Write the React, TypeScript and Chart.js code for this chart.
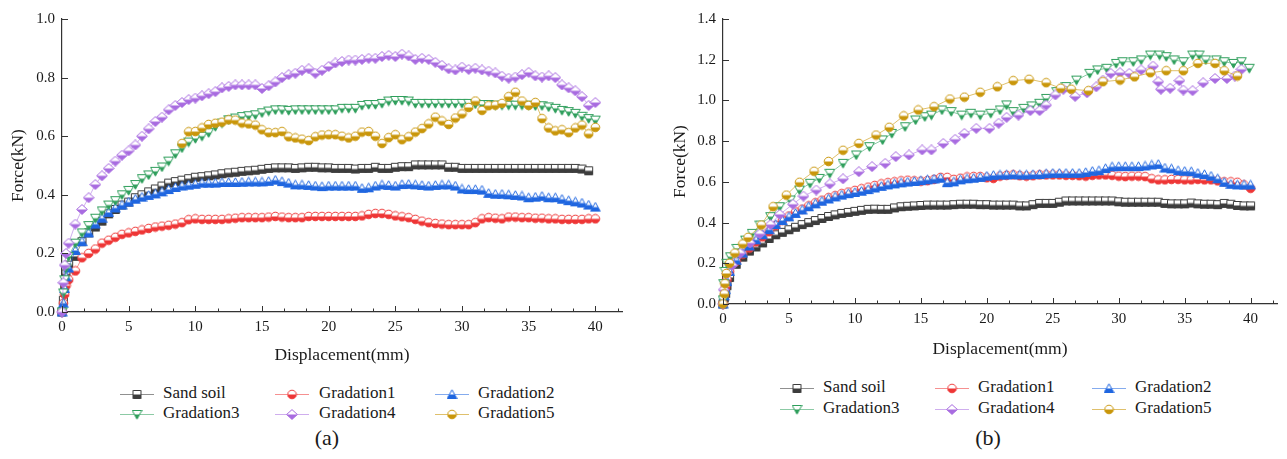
import React, { useEffect, useRef } from 'react';
import { Chart, registerables } from 'chart.js';

Chart.register(...registerables);

const FONT = '"Liberation Serif", "Times New Roman", serif';
const TEXT_COLOR = '#1a1a1a';
const AXIS_COLOR = '#333333';

const SERIES_NAMES = ['Sand soil', 'Gradation1', 'Gradation2', 'Gradation3', 'Gradation4', 'Gradation5'];
const MARKER_COLORS = ['#3c3c3c', '#ee3535', '#1f66e0', '#2e9e5b', '#a86be0', '#c9960a'];
const LINE_COLORS = ['rgba(70,70,70,0.6)', 'rgba(238,53,53,0.55)', 'rgba(31,102,224,0.55)', 'rgba(46,158,91,0.55)', 'rgba(168,107,224,0.55)', 'rgba(201,150,10,0.6)'];
const MARKER_SHAPES = ['square', 'circle', 'triangle', 'triangleDown', 'diamond', 'circle'];

const X_TICK_STEP = 5;
const X_MAX = 42;
const Y_TICK_STEP = 0.2;
const Y_MAX_A = 1.0;
const Y_MAX_B = 1.4;
const X_TITLE = 'Displacement(mm)';
const Y_TITLE = 'Force(kN)';
const CAPTIONS = ['(a)', '(b)'];

// Shared fine displacement grid (mm)
const X_FINE = [
  0, 0.1, 0.2, 0.3, 0.5, 1, 1.5, 2, 2.5, 3,
  3.5, 4, 4.5, 5, 5.5, 6, 6.5, 7, 7.5, 8,
  8.5, 9, 9.5, 10, 10.5, 11, 11.5, 12, 12.5, 13,
  13.5, 14, 14.5, 15, 15.5, 16, 16.5, 17, 17.5, 18,
  18.5, 19, 19.5, 20, 20.5, 21, 21.5, 22, 22.5, 23,
  23.5, 24, 24.5, 25, 25.5, 26, 26.5, 27, 27.5, 28,
  28.5, 29, 29.5, 30, 30.5, 31, 31.5, 32, 32.5, 33,
  33.5, 34, 34.5, 35, 35.5, 36, 36.5, 37, 37.5, 38,
  38.5, 39, 39.5, 40,
];

// ---------- Panel (a) ----------
const A_SAND = [
  0, 0.04, 0.09, 0.13, 0.16, 0.19, 0.24, 0.27, 0.29, 0.31,
  0.335, 0.35, 0.365, 0.375, 0.39, 0.4, 0.41, 0.42, 0.43, 0.44,
  0.445, 0.45, 0.455, 0.46, 0.462, 0.465, 0.468, 0.472, 0.475, 0.477,
  0.48, 0.482, 0.484, 0.487, 0.49, 0.492, 0.492, 0.492, 0.49, 0.492,
  0.494, 0.494, 0.492, 0.492, 0.49, 0.49, 0.49, 0.488, 0.49, 0.49,
  0.494, 0.49, 0.49, 0.494, 0.496, 0.496, 0.502, 0.502, 0.502, 0.502,
  0.502, 0.494, 0.494, 0.49, 0.49, 0.49, 0.49, 0.49, 0.49, 0.49,
  0.49, 0.49, 0.49, 0.49, 0.49, 0.49, 0.49, 0.49, 0.49, 0.49,
  0.49, 0.488, 0.482, null,
];
const A_G1 = [
  0, 0.03, 0.06, 0.09, 0.11, 0.14, 0.185, 0.2, 0.215, 0.235,
  0.245, 0.255, 0.265, 0.27, 0.275, 0.28, 0.285, 0.29, 0.293, 0.296,
  0.3, 0.305, 0.315, 0.318, 0.316, 0.316, 0.316, 0.316, 0.318, 0.32,
  0.322, 0.322, 0.322, 0.322, 0.324, 0.326, 0.324, 0.322, 0.322, 0.322,
  0.326, 0.326, 0.326, 0.326, 0.326, 0.326, 0.326, 0.326, 0.328, 0.333,
  0.336, 0.336, 0.333, 0.328, 0.325, 0.322, 0.316, 0.31, 0.305, 0.302,
  0.3, 0.298, 0.298, 0.298, 0.298, 0.305, 0.318, 0.322, 0.32, 0.318,
  0.324, 0.324, 0.322, 0.322, 0.32, 0.32, 0.318, 0.318, 0.316, 0.316,
  0.316, 0.316, 0.318, 0.318,
];
const A_G2 = [
  0, 0.03, 0.08, 0.12, 0.15, 0.21, 0.24, 0.27, 0.3, 0.32,
  0.34, 0.355, 0.365, 0.375, 0.385, 0.392, 0.398, 0.403, 0.41, 0.418,
  0.425, 0.43, 0.433, 0.436, 0.44, 0.44, 0.44, 0.442, 0.442, 0.442,
  0.443, 0.444, 0.444, 0.444, 0.446, 0.45, 0.445, 0.44, 0.434, 0.434,
  0.432, 0.43, 0.428, 0.43, 0.43, 0.43, 0.43, 0.43, 0.422, 0.424,
  0.43, 0.434, 0.432, 0.43, 0.435, 0.436, 0.434, 0.432, 0.43, 0.432,
  0.434, 0.434, 0.43, 0.42, 0.418, 0.418, 0.416, 0.405, 0.402, 0.402,
  0.4, 0.398, 0.396, 0.39, 0.392, 0.395, 0.39, 0.39, 0.385, 0.38,
  0.376, 0.372, 0.365, 0.358,
];
const A_G3 = [
  0, 0.065, 0.11, 0.15, 0.19, 0.235, 0.27, 0.295, 0.32, 0.345,
  0.365, 0.38, 0.4, 0.415, 0.435, 0.455, 0.468, 0.48, 0.495, 0.515,
  0.54, 0.56, 0.58, 0.592, 0.6, 0.612, 0.633, 0.645, 0.656, 0.662,
  0.667, 0.67, 0.673, 0.68, 0.686, 0.69, 0.69, 0.688, 0.69, 0.69,
  0.69, 0.69, 0.69, 0.69, 0.69, 0.695, 0.695, 0.695, 0.705, 0.708,
  0.708, 0.712, 0.72, 0.722, 0.722, 0.72, 0.712, 0.712, 0.712, 0.712,
  0.712, 0.712, 0.712, 0.712, 0.712, 0.71, 0.708, 0.708, 0.706, 0.706,
  0.706, 0.706, 0.706, 0.706, 0.704, 0.704, 0.7, 0.695, 0.688, 0.684,
  0.678, 0.668, 0.66, 0.655,
];
const A_G4 = [
  0, 0.1, 0.16, 0.2, 0.235, 0.3, 0.35, 0.39, 0.435, 0.465,
  0.49, 0.515, 0.535, 0.55, 0.57, 0.6, 0.625, 0.65, 0.665, 0.69,
  0.705, 0.715, 0.725, 0.73, 0.738, 0.745, 0.752, 0.765, 0.77, 0.775,
  0.775, 0.775, 0.775, 0.763, 0.772, 0.785, 0.8, 0.81, 0.815, 0.825,
  0.83, 0.815, 0.825, 0.838, 0.85, 0.855, 0.86, 0.86, 0.862, 0.866,
  0.866, 0.872, 0.876, 0.872, 0.88, 0.874, 0.862, 0.866, 0.862, 0.852,
  0.842, 0.83, 0.826, 0.836, 0.828, 0.832, 0.826, 0.822, 0.816, 0.805,
  0.798, 0.802, 0.81, 0.818, 0.806, 0.802, 0.806, 0.8, 0.775, 0.765,
  0.755, 0.735, 0.705, 0.715,
];
const A_G5 = [
  null, null, null, null, null, null, null, null, null, null,
  null, null, null, null, null, null, null, null, null, null,
  null, 0.575, 0.615, 0.616, 0.628, 0.64, 0.644, 0.648, 0.656, 0.655,
  0.645, 0.642, 0.638, 0.622, 0.612, 0.612, 0.616, 0.598, 0.594, 0.59,
  0.585, 0.598, 0.604, 0.605, 0.605, 0.6, 0.594, 0.6, 0.614, 0.616,
  0.6, 0.575, 0.595, 0.605, 0.588, 0.598, 0.614, 0.626, 0.642, 0.665,
  0.652, 0.64, 0.662, 0.676, 0.698, 0.72, 0.688, 0.704, 0.706, 0.712,
  0.735, 0.75, 0.72, 0.705, 0.715, 0.66, 0.628, 0.618, 0.622, 0.612,
  0.628, 0.638, 0.608, 0.63,
];

// ---------- Panel (b) ----------
const B_SAND = [
  0, 0.03, 0.052, 0.09, 0.13, 0.195, 0.23, 0.26, 0.28, 0.3,
  0.322, 0.34, 0.352, 0.365, 0.377, 0.39, 0.4, 0.41, 0.42, 0.43,
  0.438, 0.445, 0.45, 0.455, 0.46, 0.465, 0.466, 0.465, 0.465, 0.472,
  0.478, 0.48, 0.482, 0.484, 0.486, 0.486, 0.486, 0.486, 0.488, 0.49,
  0.49, 0.49, 0.488, 0.488, 0.486, 0.486, 0.486, 0.486, 0.482, 0.482,
  0.488, 0.494, 0.494, 0.494, 0.5, 0.506, 0.506, 0.506, 0.506, 0.506,
  0.506, 0.506, 0.506, 0.502, 0.5, 0.5, 0.5, 0.5, 0.5, 0.5,
  0.494, 0.492, 0.492, 0.492, 0.496, 0.492, 0.49, 0.49, 0.488, 0.494,
  0.49, 0.484, 0.482, 0.482,
];
const B_G1 = [
  0, 0.04, 0.085, 0.12, 0.16, 0.21, 0.245, 0.275, 0.305, 0.33,
  0.355, 0.385, 0.41, 0.432, 0.452, 0.466, 0.482, 0.497, 0.51, 0.522,
  0.532, 0.542, 0.55, 0.558, 0.566, 0.574, 0.582, 0.59, 0.596, 0.6,
  0.605, 0.608, 0.605, 0.603, 0.606, 0.612, 0.622, 0.622, 0.612, 0.618,
  0.624, 0.626, 0.626, 0.62, 0.617, 0.628, 0.632, 0.634, 0.63, 0.628,
  0.63, 0.634, 0.634, 0.634, 0.634, 0.632, 0.632, 0.63, 0.628, 0.632,
  0.634, 0.634, 0.632, 0.628, 0.626, 0.628, 0.628, 0.626, 0.615, 0.61,
  0.61, 0.612, 0.612, 0.61, 0.61, 0.612, 0.61, 0.61, 0.605, 0.6,
  0.6, 0.598, 0.585, 0.568,
];
const B_G2 = [
  0, 0.04, 0.07, 0.11, 0.16, 0.215, 0.25, 0.285, 0.315, 0.34,
  0.365, 0.39, 0.41, 0.428, 0.445, 0.462, 0.478, 0.492, 0.505, 0.516,
  0.526, 0.535, 0.542, 0.548, 0.554, 0.562, 0.57, 0.578, 0.585, 0.59,
  0.595, 0.599, 0.602, 0.606, 0.61, 0.614, 0.618, 0.596, 0.6, 0.61,
  0.615, 0.618, 0.622, 0.628, 0.632, 0.634, 0.634, 0.636, 0.634, 0.634,
  0.636, 0.636, 0.64, 0.642, 0.642, 0.642, 0.642, 0.642, 0.646, 0.652,
  0.655, 0.665, 0.674, 0.675, 0.675, 0.675, 0.675, 0.678, 0.683, 0.686,
  0.668, 0.664, 0.655, 0.652, 0.65, 0.642, 0.636, 0.628, 0.615, 0.598,
  0.588, 0.585, 0.585, 0.585,
];
const B_G3_X = [
  0, 0.05, 0.15, 0.3, 0.55, 1.05, 1.7, 2.2, 2.8, 3.6,
  4.3, 5.1, 5.8, 6.6, 7.3, 8.1, 9.1, 10.1, 11.1, 12.1,
  12.8, 13.8, 14.6, 15.3, 15.8, 16.6, 17.3, 18.1, 18.8, 19.5,
  20.3, 21, 21.5, 22, 22.8, 23.4, 24, 24.5, 25.3, 26,
  26.8, 27.8, 28.4, 29.1, 29.8, 30.3, 31.1, 31.7, 32.4, 33.1,
  33.6, 34.2, 34.9, 35.6, 36.1, 36.6, 37.4, 38, 38.7, 39.3,
  39.9,
];
const B_G3 = [
  0.02, 0.1, 0.16, 0.2, 0.232, 0.273, 0.314, 0.347, 0.388, 0.429,
  0.478, 0.511, 0.56, 0.593, 0.617, 0.642, 0.691, 0.732, 0.773, 0.806,
  0.838, 0.871, 0.904, 0.92, 0.928, 0.953, 0.945, 0.928, 0.937, 0.928,
  0.937, 0.953, 0.978, 0.945, 0.961, 0.973, 0.986, 1.01, 1.043, 1.068,
  1.1, 1.133, 1.15, 1.158, 1.182, 1.19, 1.19, 1.199, 1.223, 1.223,
  1.215, 1.199, 1.19, 1.223, 1.223, 1.199, 1.199, 1.19, 1.182, 1.19,
  1.158,
];
const B_G4_X = [
  0, 0.05, 0.3, 0.7, 1.3, 2.05, 2.8, 3.6, 4.3, 5.3,
  6.1, 7.07, 8.1, 9.1, 10.3, 11.3, 12.3, 13.1, 14.1, 15.1,
  15.8, 16.7, 17.6, 18.3, 19.2, 20.2, 20.9, 21.5, 22.4, 23.3,
  24, 24.5, 25.2, 25.8, 26.7, 27.6, 28.3, 28.8, 29.4, 30.1,
  30.8, 31.7, 32.6, 33, 33.2, 33.9, 34.6, 34.9, 35.6, 36.4,
  37.3, 38.2, 38.8, 39.3,
];
const B_G4 = [
  0, 0.07, 0.15, 0.19, 0.25, 0.3, 0.345, 0.39, 0.44, 0.49,
  0.53, 0.56, 0.59, 0.615, 0.65, 0.675, 0.691, 0.724, 0.732, 0.757,
  0.757, 0.789, 0.809, 0.838, 0.863, 0.863, 0.888, 0.917, 0.928, 0.95,
  0.95, 0.977, 1.027, 1.055, 1.02, 1.038, 1.067, 1.1, 1.133, 1.136,
  1.133, 1.15, 1.169, 1.092, 1.055, 1.06, 1.097, 1.051, 1.048, 1.087,
  1.108, 1.108, 1.12, 1.153,
];
const B_G5_X = [
  0, 0.1, 0.15, 0.25, 0.5, 0.9, 1.5, 1.9, 2.9, 3.8,
  4.8, 5.8, 6.9, 8, 9.1, 10.3, 11.6, 12.6, 13.7, 14.8,
  16, 17.2, 18.3, 19.5, 20.8, 22, 23.2, 24.5, 25.6, 26.4,
  27.7, 28.8, 30.1, 31.2, 32.4, 33.6, 34.9, 36, 37.3, 38,
  39,
];
const B_G5 = [
  0, 0.05, 0.1, 0.15, 0.2, 0.25, 0.295, 0.327, 0.388, 0.478,
  0.535, 0.598, 0.652, 0.7, 0.755, 0.789, 0.83, 0.868, 0.924, 0.953,
  0.969, 1.007, 1.016, 1.04, 1.067, 1.097, 1.104, 1.087, 1.06, 1.055,
  1.048, 1.092, 1.1, 1.116, 1.136, 1.146, 1.146, 1.182, 1.182, 1.146,
  1.12,
];

type Series = { x: number[]; y: (number | null)[] };

const PANEL_A_SERIES: Series[] = [
  { x: X_FINE, y: A_SAND },
  { x: X_FINE, y: A_G1 },
  { x: X_FINE, y: A_G2 },
  { x: X_FINE, y: A_G3 },
  { x: X_FINE, y: A_G4 },
  { x: X_FINE, y: A_G5 },
];
const PANEL_B_SERIES: Series[] = [
  { x: X_FINE, y: B_SAND },
  { x: X_FINE, y: B_G1 },
  { x: X_FINE, y: B_G2 },
  { x: B_G3_X, y: B_G3 },
  { x: B_G4_X, y: B_G4 },
  { x: B_G5_X, y: B_G5 },
];

function makeMarker(shape: string, color: string): HTMLCanvasElement {
  const w = shape === 'diamond' ? 12 : 11;
  const h = 11;
  const c = document.createElement('canvas');
  c.width = w;
  c.height = h;
  const ctx = c.getContext('2d') as CanvasRenderingContext2D;
  const p = new Path2D();
  const mx = w / 2;
  const my = h / 2;
  if (shape === 'square') {
    p.rect(1.5, 1.5, w - 3, h - 3);
  } else if (shape === 'circle') {
    p.arc(mx, my, 4.3, 0, Math.PI * 2);
  } else if (shape === 'triangle') {
    p.moveTo(mx, 0.8);
    p.lineTo(w - 0.7, h - 1.5);
    p.lineTo(0.7, h - 1.5);
    p.closePath();
  } else if (shape === 'triangleDown') {
    p.moveTo(0.7, 1.5);
    p.lineTo(w - 0.7, 1.5);
    p.lineTo(mx, h - 0.8);
    p.closePath();
  } else {
    p.moveTo(mx, 0.6);
    p.lineTo(w - 0.6, my);
    p.lineTo(mx, h - 0.6);
    p.lineTo(0.6, my);
    p.closePath();
  }
  ctx.fillStyle = '#ffffff';
  ctx.fill(p);
  ctx.save();
  ctx.beginPath();
  ctx.rect(0, my, w, h);
  ctx.clip();
  ctx.fillStyle = color;
  ctx.fill(p);
  ctx.restore();
  ctx.lineWidth = 1;
  ctx.strokeStyle = color;
  ctx.stroke(p);
  return c;
}

const axisTicksPlugin = {
  id: 'axisTicks',
  afterDraw(chart: any) {
    const { ctx, chartArea, scales } = chart;
    const xs = scales.x;
    const ys = scales.y;
    const minor = X_TICK_STEP / 3;
    ctx.save();
    ctx.strokeStyle = AXIS_COLOR;
    ctx.lineWidth = 1;
    ctx.beginPath();
    for (let i = 0; i * minor <= X_MAX + 1e-6; i++) {
      const px = Math.round(xs.getPixelForValue(i * minor)) + 0.5;
      const len = i % 3 === 0 ? 6 : 3.5;
      ctx.moveTo(px, chartArea.bottom);
      ctx.lineTo(px, chartArea.bottom - len);
    }
    ys.ticks.forEach((t: any) => {
      const py = Math.round(ys.getPixelForValue(t.value)) + 0.5;
      ctx.moveTo(chartArea.left, py);
      ctx.lineTo(chartArea.left + 6, py);
    });
    ctx.stroke();
    ctx.restore();
  },
};

type PanelCfg = {
  series: Series[];
  yMax: number;
  yWidth: number;
  xHeight: number;
  padRight: number;
  yTitlePad: number;
  xTitlePad: number;
};

function buildConfig(cfg: PanelCfg): any {
  const datasets = cfg.series.map((s, i) => ({
    label: SERIES_NAMES[i],
    data: s.x.map((x, j) => ({ x, y: s.y[j] })),
    borderColor: LINE_COLORS[i],
    backgroundColor: MARKER_COLORS[i],
    borderWidth: 1,
    pointStyle: makeMarker(MARKER_SHAPES[i], MARKER_COLORS[i]),
    pointRadius: 5,
    tension: 0,
    clip: false,
    order: 5 - i,
    spanGaps: false,
  }));
  const tickFont = { family: FONT, size: 15 };
  const titleFont = { family: FONT, size: 17.5 };
  return {
    type: 'line',
    data: { datasets },
    plugins: [axisTicksPlugin],
    options: {
      animation: false,
      responsive: false,
      devicePixelRatio: 1,
      events: [],
      layout: { padding: { left: 0, top: 19, right: cfg.padRight, bottom: 0 } },
      plugins: { legend: { display: false }, tooltip: { enabled: false } },
      scales: {
        x: {
          type: 'linear',
          min: 0,
          max: X_MAX,
          ticks: {
            stepSize: X_TICK_STEP,
            includeBounds: false,
            font: tickFont,
            color: TEXT_COLOR,
            padding: 6,
            maxRotation: 0,
            autoSkip: false,
          },
          grid: { display: false, drawTicks: false },
          border: { display: true, color: AXIS_COLOR, width: 1.2 },
          title: {
            display: true,
            text: X_TITLE,
            font: titleFont,
            color: TEXT_COLOR,
            padding: { top: 0, bottom: cfg.xTitlePad },
          },
          afterFit: (s: any) => {
            s.height = cfg.xHeight;
          },
        },
        y: {
          type: 'linear',
          min: 0,
          max: cfg.yMax,
          ticks: {
            stepSize: Y_TICK_STEP,
            font: tickFont,
            color: TEXT_COLOR,
            padding: 7,
            callback: (v: any) => Number(v).toFixed(1),
          },
          grid: { display: false, drawTicks: false },
          border: { display: true, color: AXIS_COLOR, width: 1.2 },
          title: {
            display: true,
            text: Y_TITLE,
            font: titleFont,
            color: TEXT_COLOR,
            padding: { top: cfg.yTitlePad, bottom: 0 },
          },
          afterFit: (s: any) => {
            s.width = cfg.yWidth;
          },
        },
      },
    },
  };
}

function Panel({ cfg, left, width }: { cfg: PanelCfg; left: number; width: number }) {
  const ref = useRef<HTMLCanvasElement>(null);
  useEffect(() => {
    const chart = new Chart(ref.current as HTMLCanvasElement, buildConfig(cfg));
    return () => chart.destroy();
  }, []);
  return (
    <canvas
      ref={ref}
      width={width}
      height={370}
      style={{ position: 'absolute', left, top: 0, width, height: 370 }}
    />
  );
}

function LegendSample({ index, left, top }: { index: number; left: number; top: number }) {
  const ref = useRef<HTMLCanvasElement>(null);
  useEffect(() => {
    const c = ref.current as HTMLCanvasElement;
    const ctx = c.getContext('2d') as CanvasRenderingContext2D;
    ctx.clearRect(0, 0, c.width, c.height);
    ctx.strokeStyle = LINE_COLORS[index];
    ctx.lineWidth = 1;
    ctx.beginPath();
    ctx.moveTo(0, 7.5);
    ctx.lineTo(34, 7.5);
    ctx.stroke();
    const m = makeMarker(MARKER_SHAPES[index], MARKER_COLORS[index]);
    ctx.drawImage(m, 17 - m.width / 2, 7.5 - m.height / 2);
  }, []);
  return (
    <canvas
      ref={ref}
      width={34}
      height={15}
      style={{ position: 'absolute', left, top: top - 7.5, width: 34, height: 15 }}
    />
  );
}

function Legend({ sampleX, textX, rowY }: { sampleX: number[]; textX: number[]; rowY: number[] }) {
  const items = SERIES_NAMES.map((name, i) => {
    const col = i % 3;
    const row = Math.floor(i / 3);
    return (
      <React.Fragment key={name}>
        <LegendSample index={i} left={sampleX[col]} top={rowY[row]} />
        <span
          style={{
            position: 'absolute',
            left: textX[col],
            top: rowY[row] - 11,
            fontSize: 17,
            lineHeight: '20px',
            color: TEXT_COLOR,
            whiteSpace: 'nowrap',
          }}
        >
          {name}
        </span>
      </React.Fragment>
    );
  });
  return <>{items}</>;
}

function Caption({ text, cx }: { text: string; cx: number }) {
  return (
    <div
      style={{
        position: 'absolute',
        left: cx - 40,
        width: 80,
        top: 425,
        textAlign: 'center',
        fontSize: 22,
        lineHeight: '26px',
        color: TEXT_COLOR,
      }}
    >
      {text}
    </div>
  );
}

const PANEL_A: PanelCfg = {
  series: PANEL_A_SERIES,
  yMax: Y_MAX_A,
  yWidth: 62,
  xHeight: 58,
  padRight: 21,
  yTitlePad: 7.5,
  xTitlePad: 4.5,
};
const PANEL_B: PanelCfg = {
  series: PANEL_B_SERIES,
  yMax: Y_MAX_B,
  yWidth: 80,
  xHeight: 66,
  padRight: 10,
  yTitlePad: 26.5,
  xTitlePad: 10.5,
};

export default function App() {
  return (
    <div
      style={{
        position: 'absolute',
        left: 0,
        top: 0,
        width: 1287,
        height: 459,
        background: '#ffffff',
        fontFamily: FONT,
        overflow: 'hidden',
      }}
    >
      <Panel cfg={PANEL_A} left={0} width={643} />
      <Panel cfg={PANEL_B} left={643} width={644} />
      <Legend sampleX={[120, 275, 435]} textX={[163, 319, 478]} rowY={[394, 414]} />
      <Legend sampleX={[780, 935, 1092]} textX={[823, 978, 1135]} rowY={[388, 409]} />
      <Caption text={CAPTIONS[0]} cx={327} />
      <Caption text={CAPTIONS[1]} cx={988} />
    </div>
  );
}
